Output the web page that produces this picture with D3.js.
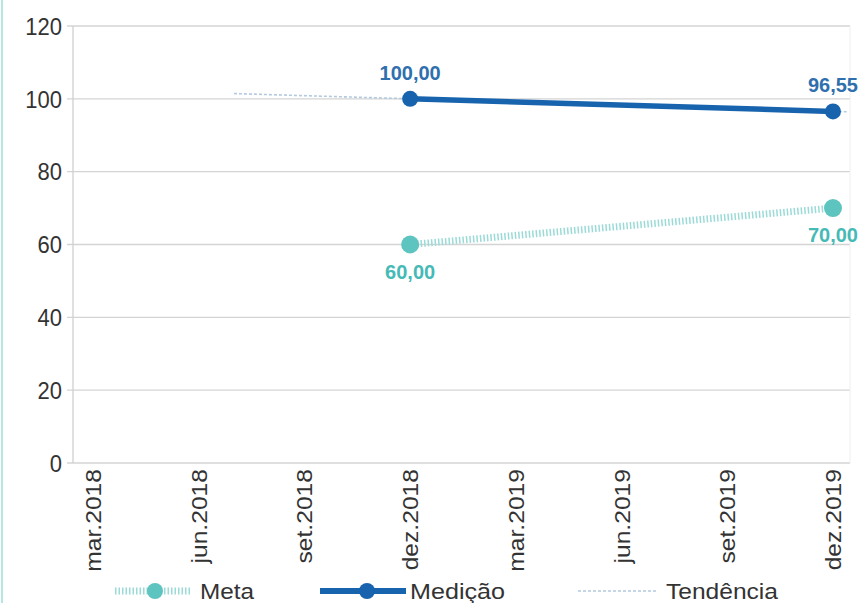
<!DOCTYPE html>
<html><head><meta charset="utf-8">
<script src="https://cdn.jsdelivr.net/npm/d3@7"></script>
<style>body{margin:0;background:#fff}svg{display:block}</style>
</head><body>
<script>
// month index: 0 = mar.2018
const xTickLabels = ["mar.2018","jun.2018","set.2018","dez.2018","mar.2019","jun.2019","set.2019","dez.2019"];
const xTickMonths = [0,3,6,9,12,15,18,21];
const yTicks = [0,20,40,60,80,100,120];
const pointMonths = [9,21];
const metaValues = [60,70];
const medicaoValues = [100,96.55];
const trendMonths = [4,21.4];
const trendValues = [101.45,96.43];
const legendLabels = ["Meta","Medição","Tendência"];

const W=863,H=603;
const svg=d3.select("body").append("svg").attr("width",W).attr("height",H);
const font="'Liberation Sans', Arial, sans-serif";
const x=d3.scaleLinear().domain([0,21]).range([93,833]);
const y=d3.scaleLinear().domain([0,120]).range([463,26]);
const L=73,R=850;
const cMeta="#5ec4c0", cMetaLine="#9adad7", cMed="#1763ad", cTrend="#b3c9de";

// left border
svg.append("line").attr("x1",2).attr("x2",2).attr("y1",0).attr("y2",H).attr("stroke","#b5e6e2").attr("stroke-width",2);

// grid
svg.append("g").selectAll("line").data(yTicks).join("line")
 .attr("x1",67).attr("x2",R).attr("y1",d=>y(d)).attr("y2",d=>y(d))
 .attr("stroke","#d4d4d4").attr("stroke-width",1.3);
svg.append("line").attr("x1",L).attr("x2",L).attr("y1",y(120)).attr("y2",y(0)).attr("stroke","#cfcfcf").attr("stroke-width",1.3);
svg.append("line").attr("x1",R).attr("x2",R).attr("y1",y(120)).attr("y2",y(0)).attr("stroke","#eeeeee").attr("stroke-width",1);

// y labels
svg.append("g").selectAll("text").data(yTicks).join("text")
 .attr("transform",d=>`translate(62,${y(d)}) scale(1,1.1)`).attr("dy","0.36em").attr("text-anchor","end")
 .attr("font-family",font).attr("font-size",22).attr("fill","#333").text(d=>d);

// x labels
svg.append("g").selectAll("text").data(xTickMonths).join("text")
 .attr("transform",d=>`translate(${x(d)},469) rotate(-90) scale(1.12,1)`)
 .attr("dy","0.36em").attr("text-anchor","end")
 .attr("font-family",font).attr("font-size",22).attr("fill","#333")
 .text((d,i)=>xTickLabels[i]);

const line=d3.line().x(d=>x(d[0])).y(d=>y(d[1]));
// trend
svg.append("path").datum(trendMonths.map((m,i)=>[m,trendValues[i]])).attr("d",line)
 .attr("fill","none").attr("stroke",cTrend).attr("stroke-width",1.6).attr("stroke-dasharray","3,2");
// meta
const metaD=pointMonths.map((m,i)=>[m,metaValues[i]]);
svg.append("path").datum(metaD).attr("d",line).attr("fill","none")
 .attr("stroke",cMetaLine).attr("stroke-width",7).attr("stroke-dasharray","1.5,2");
svg.append("g").selectAll("circle").data(metaD).join("circle")
 .attr("cx",d=>x(d[0])).attr("cy",d=>y(d[1])).attr("r",9).attr("fill",cMeta);
// medicao
const medD=pointMonths.map((m,i)=>[m,medicaoValues[i]]);
svg.append("path").datum(medD).attr("d",line).attr("fill","none")
 .attr("stroke",cMed).attr("stroke-width",5.5);
svg.append("g").selectAll("circle").data(medD).join("circle")
 .attr("cx",d=>x(d[0])).attr("cy",d=>y(d[1])).attr("r",8).attr("fill",cMed);

const fmt=v=>v.toFixed(2).replace(".",",");
// labels
svg.append("g").selectAll("text").data(medD).join("text")
 .attr("x",d=>x(d[0])).attr("y",d=>y(d[1])-19)
 .attr("text-anchor",(d,i)=>i==0?"middle":"end").attr("dx",(d,i)=>i==0?0:25)
 .attr("font-family",font).attr("font-weight","bold").attr("font-size",20).attr("fill","#2f6fae")
 .text(d=>fmt(d[1]));
svg.append("g").selectAll("text").data(metaD).join("text")
 .attr("x",d=>x(d[0])).attr("y",d=>y(d[1])+34)
 .attr("text-anchor",(d,i)=>i==0?"middle":"end").attr("dx",(d,i)=>i==0?0:25)
 .attr("font-family",font).attr("font-weight","bold").attr("font-size",20).attr("fill","#45bab6")
 .text(d=>fmt(d[1]));

// legend
const ly=591;
const lg=svg.append("g");
lg.append("line").attr("x1",115).attr("x2",192).attr("y1",ly).attr("y2",ly).attr("stroke",cMetaLine).attr("stroke-width",7).attr("stroke-dasharray","1.5,2");
lg.append("circle").attr("cx",155).attr("cy",ly).attr("r",8).attr("fill",cMeta);
lg.append("line").attr("x1",320).attr("x2",406).attr("y1",ly).attr("y2",ly).attr("stroke",cMed).attr("stroke-width",6);
lg.append("circle").attr("cx",367).attr("cy",ly).attr("r",8).attr("fill",cMed);
lg.append("line").attr("x1",578).attr("x2",658).attr("y1",ly).attr("y2",ly).attr("stroke",cTrend).attr("stroke-width",1.5).attr("stroke-dasharray","3,2");
const lx=[200,410,666];
lg.selectAll("text").data(legendLabels).join("text")
 .attr("x",(d,i)=>lx[i]).attr("y",ly).attr("dy","0.36em")
 .attr("font-family",font).attr("font-size",22).attr("fill","#333")
 .attr("textLength",(d,i)=>[54,95,112][i]).attr("lengthAdjust","spacingAndGlyphs")
 .text(d=>d);
</script>
</body></html>
